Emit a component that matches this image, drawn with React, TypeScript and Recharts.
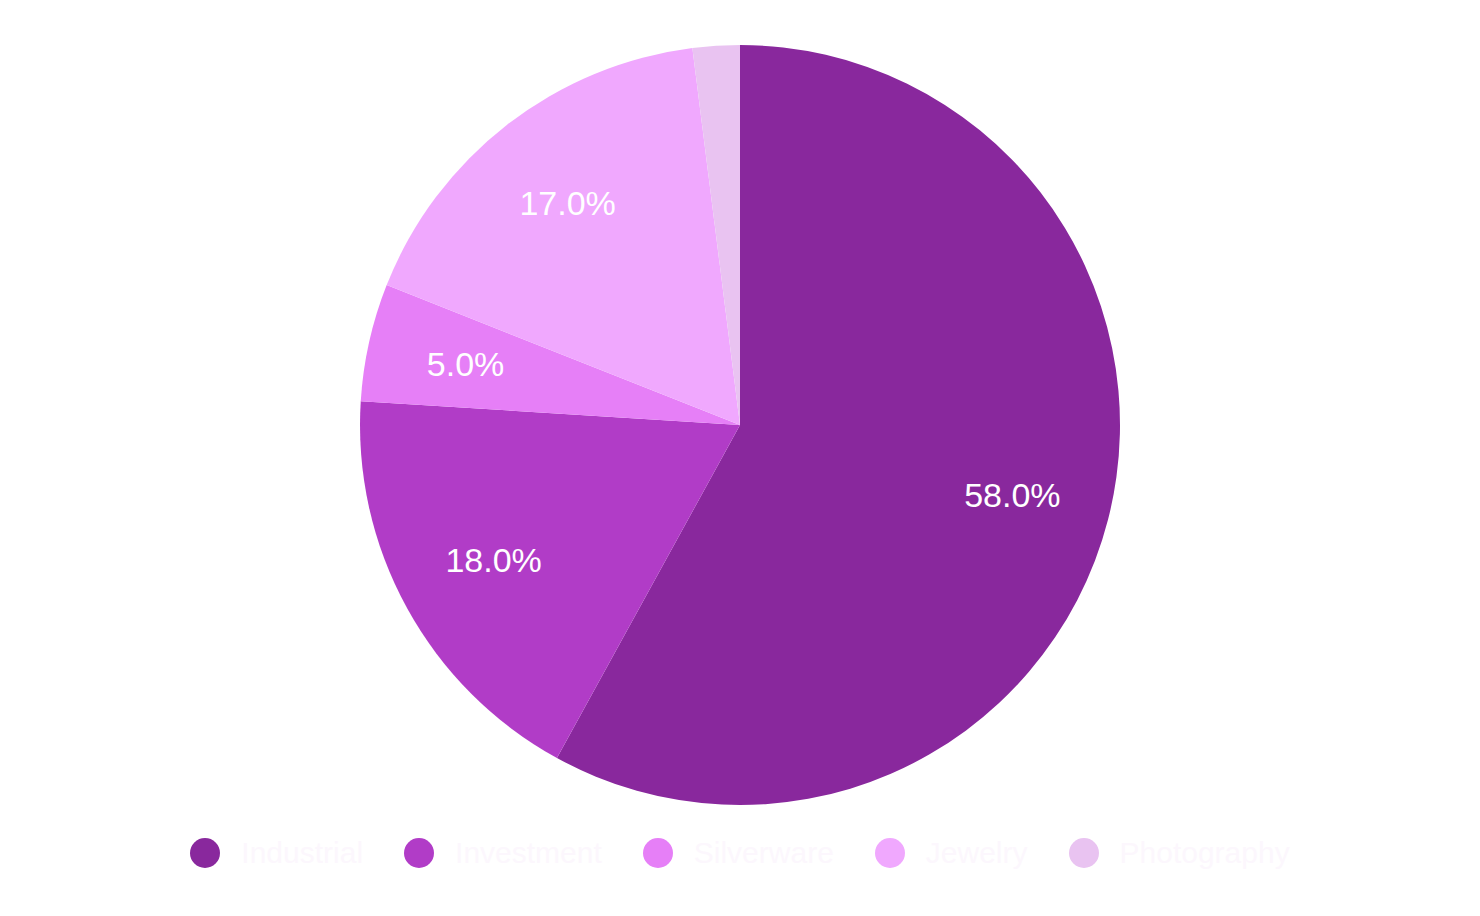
import React from "react";
import { PieChart, Pie, Cell, Legend } from "recharts";

const categories = ["Industrial", "Investment", "Silverware", "Jewelry", "Photography"];
const shares = [58, 18, 5, 17, 2];
const colors = ["#89289d", "#b13cc7", "#e67ff7", "#f0a8fe", "#e9c3f1"];

const data = categories.map((name, i) => ({ name, value: shares[i] }));
const total = shares.reduce((a, b) => a + b, 0);

const RAD = Math.PI / 180;

const renderLabel = (props: any) => {
  const { cx, cy, midAngle, outerRadius, value } = props;
  const pct = (value / total) * 100;
  if (pct < 3) return null;
  const r = outerRadius * 0.74;
  const x = cx + r * Math.cos(-midAngle * RAD);
  const y = cy + r * Math.sin(-midAngle * RAD);
  return (
    <text
      x={x}
      y={y}
      fill="#ffffff"
      textAnchor="middle"
      dominantBaseline="central"
      fontFamily="'Liberation Sans', Arial, sans-serif"
      fontSize={34}
    >
      {pct.toFixed(1) + "%"}
    </text>
  );
};

const renderLegend = () => (
  <div
    style={{
      display: "flex",
      justifyContent: "center",
      alignItems: "center",
      fontFamily: "'Liberation Sans', Arial, sans-serif",
      fontSize: 30,
      color: "#fcf7fd",
    }}
  >
    {categories.map((c, i) => (
      <div key={c} style={{ display: "flex", alignItems: "center", marginRight: i < categories.length - 1 ? 41 : 0 }}>
        <svg width={30} height={30} style={{ marginRight: 21 }}>
          <circle cx={15} cy={15} r={15} fill={colors[i]} />
        </svg>
        <span>{c}</span>
      </div>
    ))}
  </div>
);

export default function App() {
  return (
    <div style={{ width: 1464, height: 900, background: "#ffffff" }}>
      <PieChart width={1464} height={900} margin={{ top: 0, right: 0, bottom: 0, left: 0 }}>
        <Pie
          data={data}
          dataKey="value"
          nameKey="name"
          cx={732}
          cy={417}
          outerRadius={380}
          innerRadius={0}
          startAngle={90}
          endAngle={-270}
          stroke="none"
          label={renderLabel}
          labelLine={false}
          isAnimationActive={false}
        >
          {data.map((d, i) => (
            <Cell key={d.name} fill={colors[i]} />
          ))}
        </Pie>
        <Legend content={renderLegend} wrapperStyle={{ top: 828, left: 0, width: 1464 }} />
      </PieChart>
    </div>
  );
}
